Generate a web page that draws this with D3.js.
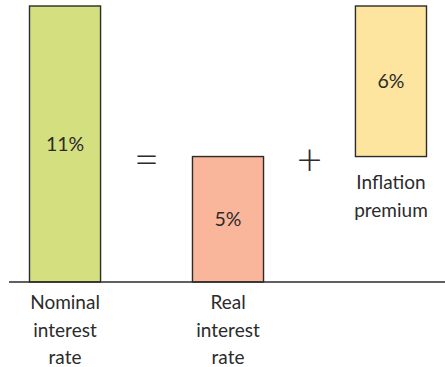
<!DOCTYPE html>
<html><head><meta charset="utf-8">
<script src="https://cdn.jsdelivr.net/npm/d3@7"></script>
<style>body{margin:0;background:#fff}svg{display:block}</style>
</head><body>
<script>
const categories = ["Nominal interest rate", "Real interest rate", "Inflation premium"];
const labelLines = [["Nominal", "interest", "rate"], ["Real", "interest", "rate"], ["Inflation", "premium"]];
const startValues = [0, 0, 5];
const values = [11, 5, 6];
const valueLabels = ["11%", "5%", "6%"];
const operators = ["=", "+"];
const colors = ["#d4df7f", "#f9b69b", "#fde59f"];

const W = 445, H = 367;
const svg = d3.select("body").append("svg").attr("width", W).attr("height", H);
const x = d3.scaleBand().domain(categories).range([29.5, 426.5]).paddingInner(0.564).paddingOuter(0);
const y = d3.scaleLinear().domain([0, 11]).range([282, 6]);
const font = "Lato, 'Open Sans', sans-serif";
const ink = "#2b2b2b";
const fs = 19;

const data = categories.map((c, i) => ({c, s: startValues[i], v: values[i], lab: valueLabels[i], col: colors[i], lines: labelLines[i]}));

svg.selectAll("rect.bar").data(data).join("rect").attr("class", "bar")
  .attr("x", d => x(d.c)).attr("width", x.bandwidth())
  .attr("y", d => y(d.s + d.v)).attr("height", d => y(d.s) - y(d.s + d.v))
  .attr("fill", d => d.col).attr("stroke", ink).attr("stroke-width", 1.4);

svg.append("line").attr("x1", 9).attr("x2", W).attr("y1", y(0)).attr("y2", y(0))
  .attr("stroke", ink).attr("stroke-width", 1.6);

svg.selectAll("text.val").data(data).join("text").attr("class", "val")
  .attr("x", d => x(d.c) + x.bandwidth() / 2)
  .attr("y", d => (y(d.s) + y(d.s + d.v)) / 2)
  .attr("dy", "0.35em").attr("text-anchor", "middle")
  .attr("font-family", font).attr("font-size", 19.5).attr("fill", ink)
  .text(d => d.lab);

data.forEach(d => {
  const top0 = d.s === 0 ? y(0) + 20.5 : y(d.s) + 26;
  svg.append("g").selectAll("text").data(d.lines).join("text")
    .attr("x", x(d.c) + x.bandwidth() / 2)
    .attr("y", (t, j) => top0 + j * 27.5)
    .attr("dy", "0.35em").attr("text-anchor", "middle")
    .attr("font-family", font).attr("font-size", fs).attr("fill", ink)
    .text(t => t);
});

operators.forEach((op, i) => {
  const cx = (x(categories[i]) + x(categories[i + 1]) + x.bandwidth()) / 2;
  svg.append("text").attr("x", cx).attr("y", 161.5).attr("dy", "0.3em")
    .attr("text-anchor", "middle").attr("font-family", font).attr("font-weight", 300)
    .attr("font-size", 44).attr("fill", ink).text(op);
});
</script>
</body></html>
